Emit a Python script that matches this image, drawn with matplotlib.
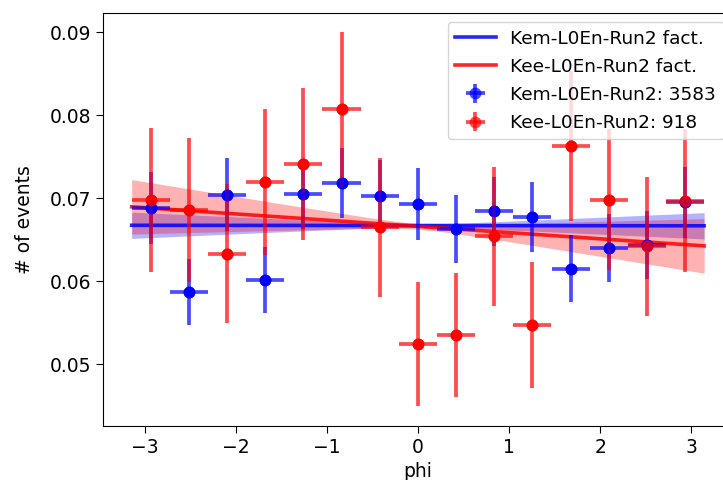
import matplotlib
matplotlib.use('Agg')
import matplotlib.pyplot as plt
import numpy as np

# bin centres in phi (15 bins from -pi to pi)
phi = np.array([-2.932, -2.513, -2.094, -1.676, -1.257, -0.838, -0.419, 0.0,
                0.419, 0.838, 1.257, 1.676, 2.094, 2.513, 2.932])
phi_err = np.pi / 15

kem = [0.0688, 0.0587, 0.0704, 0.0601, 0.0705, 0.0718, 0.0703, 0.0693,
       0.0663, 0.0684, 0.0677, 0.0615, 0.0640, 0.0643, 0.0695]
kem_err = [0.0043, 0.0040, 0.0044, 0.0040, 0.0042, 0.0042, 0.0043, 0.0043,
           0.0041, 0.0042, 0.0042, 0.0040, 0.0041, 0.0041, 0.0043]

kee = [0.0698, 0.0686, 0.0633, 0.0720, 0.0741, 0.0807, 0.0665, 0.0524,
       0.0535, 0.0654, 0.0547, 0.0763, 0.0698, 0.0642, 0.0697]
kee_err = [0.0087, 0.0087, 0.0084, 0.0088, 0.0092, 0.0093, 0.0084, 0.0075,
           0.0075, 0.0084, 0.0076, 0.0090, 0.0085, 0.0084, 0.0086]

# linear fit parameters: value at 0, slope, and their uncertainties
kem_fit = (0.0667, -0.00001, 0.00020, 0.00050)
kee_fit = (0.0666, -0.00075, 0.00035, 0.00104)

fig = plt.figure(figsize=(7.23, 4.8), dpi=100)
ax = fig.add_axes([0.1425, 0.1125, 0.871, 0.8605])

xs = np.linspace(-np.pi, np.pi, 200)

def draw_fit(par, color, label):
    a, b, sa, sb = par
    y = a + b * xs
    band = np.sqrt(sa**2 + (xs * sb)**2)
    ax.fill_between(xs, y - band, y + band, color=color, alpha=0.3, lw=0)
    ax.plot(xs, y, color=color, lw=2.6, alpha=0.85, label=label)

draw_fit(kem_fit, 'b', 'Kem-L0En-Run2 fact.')
draw_fit(kee_fit, 'r', 'Kee-L0En-Run2 fact.')

ax.errorbar(phi, kem, xerr=phi_err, yerr=kem_err, fmt='o', color='b',
            ms=8.5, mew=0, elinewidth=2.7, alpha=0.7, label='Kem-L0En-Run2: 3583')
ax.plot(phi, kem, 'o', color='b', ms=8.5, mew=0)
ax.errorbar(phi, kee, xerr=phi_err, yerr=kee_err, fmt='o', color='r',
            ms=8.5, mew=0, elinewidth=2.7, alpha=0.7, label='Kee-L0En-Run2: 918')
ax.plot(phi, kee, 'o', color='r', ms=8.5, mew=0)

ax.set_xlim(-3.456, 3.456)
ax.set_ylim(0.04253, 0.09233)
ax.set_yticks([0.05, 0.06, 0.07, 0.08, 0.09])
ax.tick_params(labelsize=13.5, length=5)
ax.set_xlabel('phi', fontsize=13.5)
ax.set_ylabel('# of events', fontsize=13.5, labelpad=11)

ax.legend(loc='upper right', fontsize=13.3, handlelength=2.2,
          borderaxespad=0.5, labelspacing=0.55)

plt.savefig('out.png', dpi=100)
